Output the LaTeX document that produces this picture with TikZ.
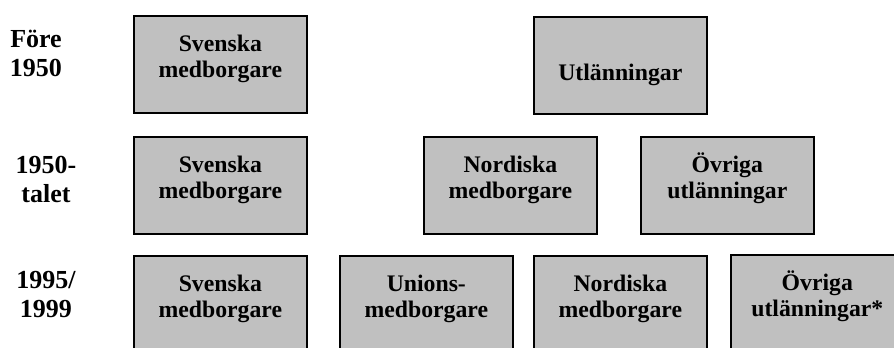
\documentclass[tikz,border=0pt]{standalone}
\usepackage{fontspec}
\setmainfont{Liberation Serif}
\usetikzlibrary{positioning}
\definecolor{boxgray}{RGB}{192,192,192}
\tikzset{
  cell/.style={draw, fill=boxgray, line width=1.5pt, anchor=north west,
    inner sep=0pt, minimum width=129.5pt, align=center,
    text height=45.75pt, text depth=27pt,
    font=\bfseries\fontsize{17.8}{19.5}\selectfont},
  period/.style={align=center, font=\bfseries\fontsize{19.5}{21.75}\selectfont}
}

\begin{document}
\begin{tikzpicture}[x=0.75pt, y=-0.75pt]
  \useasboundingbox (0,0) rectangle (894,347);
  \clip (0,0) rectangle (894,347);
  \node[period] (pre) at (36,53) {Före\\1950};
  \node[period] (fifties) at (46,179.5) {1950-\\talet};
  \node[period] (eu) at (46,294.5) {1995/\\1999};

  \node[cell] (sweA) at (133,15) {Svenska\\medborgare};
  \node[cell, text height=47.25pt, text depth=25.5pt] (forA) at (533,16) {Utlänningar};

  \node[cell] (sweB) at (133,136) {Svenska\\medborgare};
  \node[cell] (nordB) at (423,136) {Nordiska\\medborgare};
  \node[cell] (restB) at (640,136) {Övriga\\utlänningar};

  \node[cell] (sweC) at (133,255) {Svenska\\medborgare};
  \node[cell] (unionC) at (339,255) {Unions-\\medborgare};
  \node[cell] (nordC) at (533,255) {Nordiska\\medborgare};
  \node[cell] (restC) at (730,254) {Övriga\\utlänningar*};
\end{tikzpicture}
\end{document}
